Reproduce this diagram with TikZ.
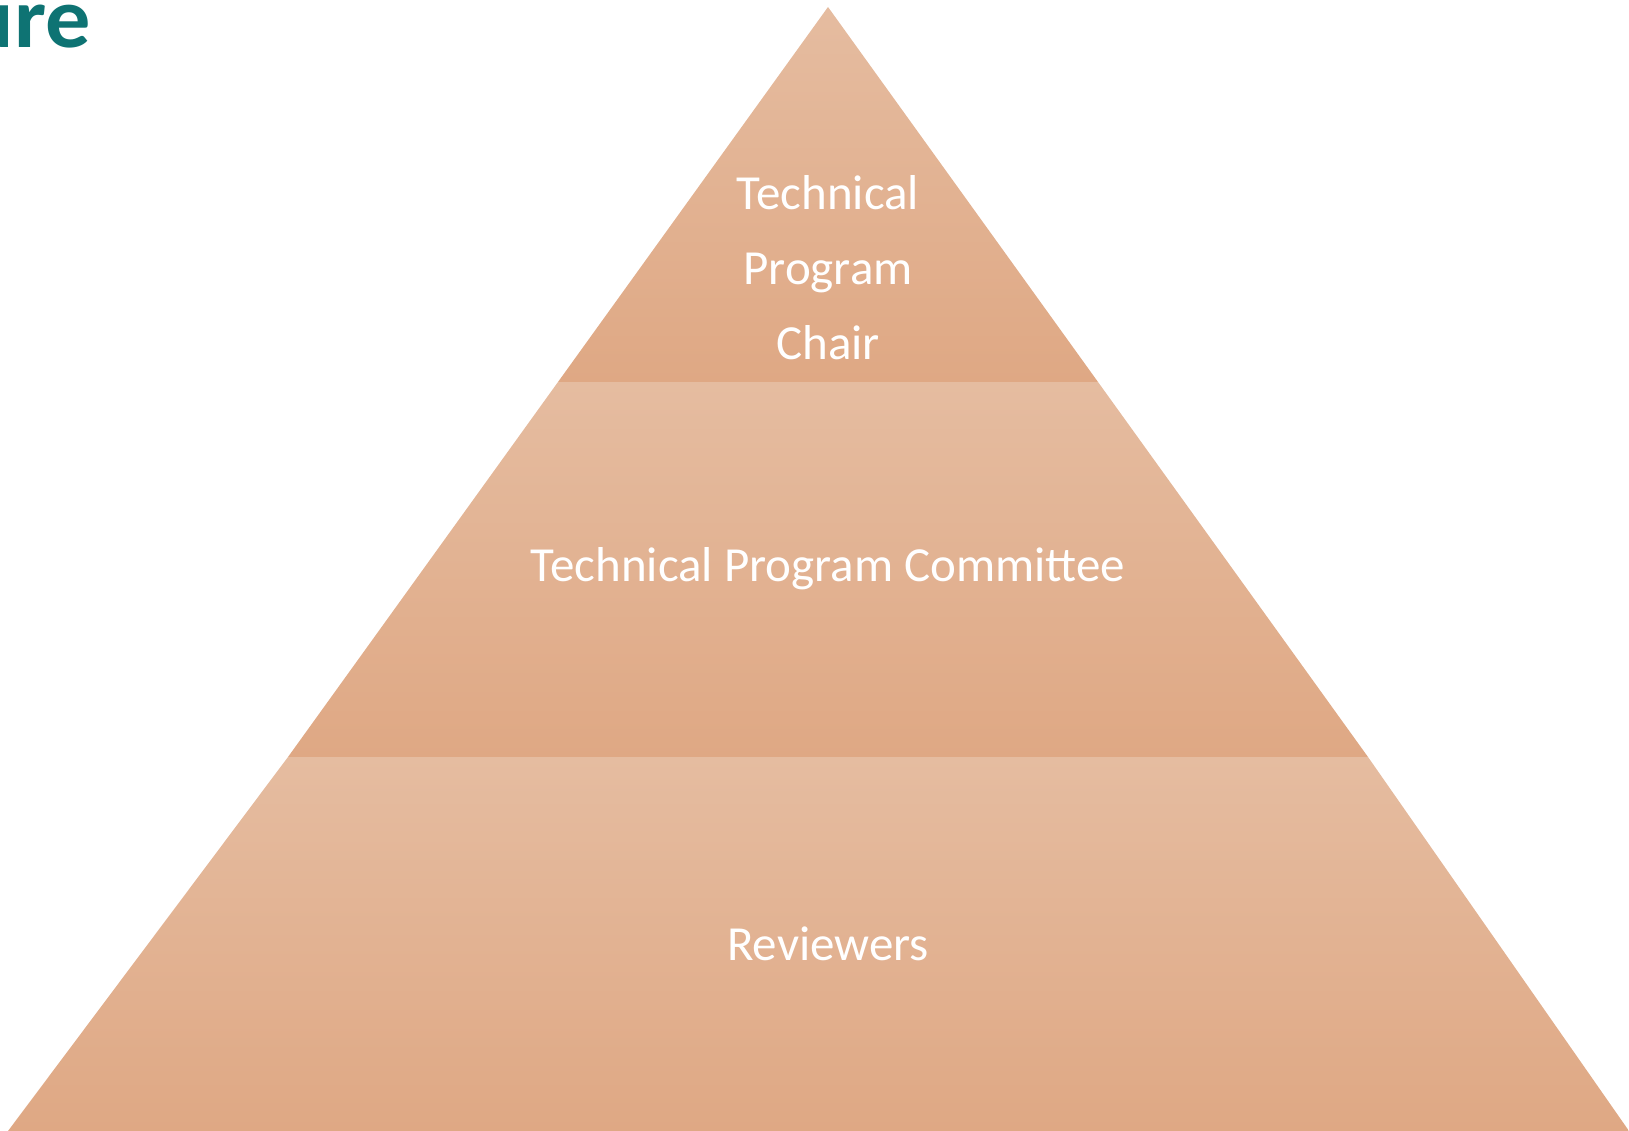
\documentclass[tikz,border=0pt]{standalone}
\usepackage{fontspec}
\setmainfont{Carlito}
\begin{document}
\begin{tikzpicture}[x=1pt,y=-1pt,
  tier/.style={top color=tierTop,bottom color=tierBottom,draw=none},
  tierlabel/.style={text=white,font=\fontsize{49}{75}\selectfont,align=center,inner sep=0pt},
  title/.style={text=titleTeal,font=\bfseries\fontsize{86}{86}\selectfont,inner sep=0pt,xscale=1.05}]
\definecolor{tierTop}{HTML}{E5BCA0}
\definecolor{tierBottom}{HTML}{DFA884}
\definecolor{titleTeal}{HTML}{0E7373}
\useasboundingbox (0,0) rectangle (1629,1131);
\clip (0,0) rectangle (1629,1131);
% pyramid corners
\coordinate (apex) at (828,7);
\coordinate (l1) at (558,382);
\coordinate (r1) at (1098,382);
\coordinate (l2) at (288,757);
\coordinate (r2) at (1368,757);
\coordinate (l3) at (8,1131);
\coordinate (r3) at (1629,1131);
% three tiers, each shaded from light to dark
\shade[tier] (apex) -- (r1) -- (l1) -- cycle;
\shade[tier] (l1) -- (r1) -- (r2) -- (l2) -- cycle;
\shade[tier] (l2) -- (r2) -- (r3) -- (l3) -- cycle;
% labels
\node[tierlabel] (chair) at (828,268) {Technical\\Program\\Chair};
\node[tierlabel] (tpc) at (828,569) {Technical Program Committee};
\node[tierlabel] (rev) at (828,944) {Reviewers};
% heading fragment
\node[title,anchor=base east] (head) at (91,48) {ure};
\end{tikzpicture}
\end{document}
